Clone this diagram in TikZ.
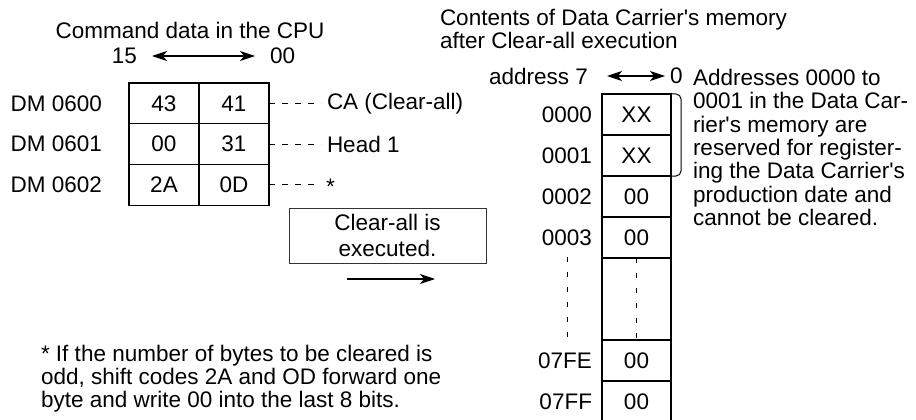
\documentclass[tikz,border=0pt]{standalone}
\usepackage{fontspec}
\newfontfamily\helv{Liberation Sans}
\usetikzlibrary{arrows.meta, positioning}

\begin{document}
\begin{tikzpicture}[
        x=1pt, y=-1pt,
        every node/.style={inner sep=0pt, outer sep=0pt, font=\helv\fontsize{22.5}{23.3}\selectfont},
        cell/.style={rectangle, draw, line width=1.1pt, minimum width=70pt, minimum height=40.7pt},
        memcell/.style={cell, minimum width=69pt, minimum height=41pt},
        runbox/.style={rectangle, draw=black!80, line width=1pt, minimum width=197pt,
                       minimum height=55pt, align=center, font=\helv\fontsize{22.5}{26}\selectfont},
        lead/.style={line width=0.9pt, dash pattern=on 6pt off 7pt, shorten >=6pt},
        vdots/.style={line width=0.9pt, dash pattern=on 5pt off 10pt},
        arr/.style={line width=1.1pt, -{Stealth[length=15pt, width=10pt, inset=4pt]}},
        dblarr/.style={line width=1.1pt, {Stealth[length=15pt, width=10pt, inset=4pt]}-{Stealth[length=15pt, width=10pt, inset=4pt]}},
        note/.style={align=left, anchor=west}
    ]
    \useasboundingbox (0,0) rectangle (916,420);

    % Command data in the CPU
    \node (cputitle) at (190,30) {Command data in the CPU};
    \node[anchor=east] (hi) at (137,56) {15};
    \node[anchor=west] (lo) at (270,56) {00};
    \draw[dblarr, shorten <=15pt, shorten >=15pt] (hi.east) -- (lo.west);

    \node[cell, anchor=north west] (c00) at (129,83) {43};
    \node[cell, right=0pt of c00] (c01) {41};
    \node[cell, below=0pt of c00] (c10) {00};
    \node[cell, right=0pt of c10] (c11) {31};
    \node[cell, below=0pt of c10] (c20) {2A};
    \node[cell, right=0pt of c20] (c21) {0D};

    \node[left=27pt of c00] (dm0) {DM 0600};
    \node[left=27pt of c10] (dm1) {DM 0601};
    \node[left=27pt of c20] (dm2) {DM 0602};

    \node[right=58pt of c01] (ca) {CA (Clear-all)};
    \node[right=58pt of c11] (head) {Head 1};
    \node[right=57pt of c21, yshift=-2pt] (star) {*};
    \draw[lead] (c01) -- (ca);
    \draw[lead] (c11) -- (head);
    \draw[lead] (c21.east) -- (c21.east -| star.west);

    % Clear-all
    \node[runbox] (run) at (387.5,235.5) {Clear-all is\\executed.};
    \coordinate (runA) at (347,279);
    \coordinate (runB) at (435,279);
    \draw[arr] (runA) -- (runB);

    % Data Carrier's memory
    \node[note] (memtitle) at (440,29) {Contents of Data Carrier's memory\\after Clear-all execution};
    \node[anchor=east] (addr) at (588,76) {address 7};
    \node[anchor=west] (bit0) at (670,76) {0};
    \draw[dblarr, shorten <=19pt, shorten >=5pt] (addr.east) -- (bit0.west);

    \node[memcell, anchor=north west] (m0) at (602,94) {XX};
    \node[memcell, below=0pt of m0] (m1) {XX};
    \node[memcell, below=0pt of m1] (m2) {00};
    \node[memcell, below=0pt of m2] (m3) {00};
    \node[memcell, below=0pt of m3, minimum height=82pt] (gap) {};
    \node[memcell, below=0pt of gap] (m4) {00};
    \node[memcell, below=0pt of m4] (m5) {00};

    \node[left=10pt of m0] (a0) {0000};
    \node[left=10pt of m1] (a1) {0001};
    \node[left=10pt of m2] (a2) {0002};
    \node[left=10pt of m3] (a3) {0003};
    \node[left=10pt of m4] (a4) {07FE};
    \node[left=10pt of m5] (a5) {07FF};

    \draw[vdots] ([yshift=-12pt]a3.south) -- ([yshift=10pt]a3.south |- a4.north);
    \draw[vdots] (gap.north) -- (gap.south);

    % reserved bracket
    \draw[line width=1pt, rounded corners=5pt] (m0.north east) -- ([xshift=10pt]m0.north east)
        -- ([xshift=10pt]m1.south east) -- (m1.south east);

    \node[note] (reserved) at (693,147.5) {Addresses 0000 to\\0001 in the Data Car-\\rier's memory are\\reserved for register-\\ing the Data Carrier's\\production date and\\cannot be cleared.};

    % footnote
    \node[note] (foot) at (41,378.5) {* If the number of bytes to be cleared is\\odd, shift codes 2A and OD forward one\\byte and write 00 into the last 8 bits.};
\end{tikzpicture}
\end{document}
